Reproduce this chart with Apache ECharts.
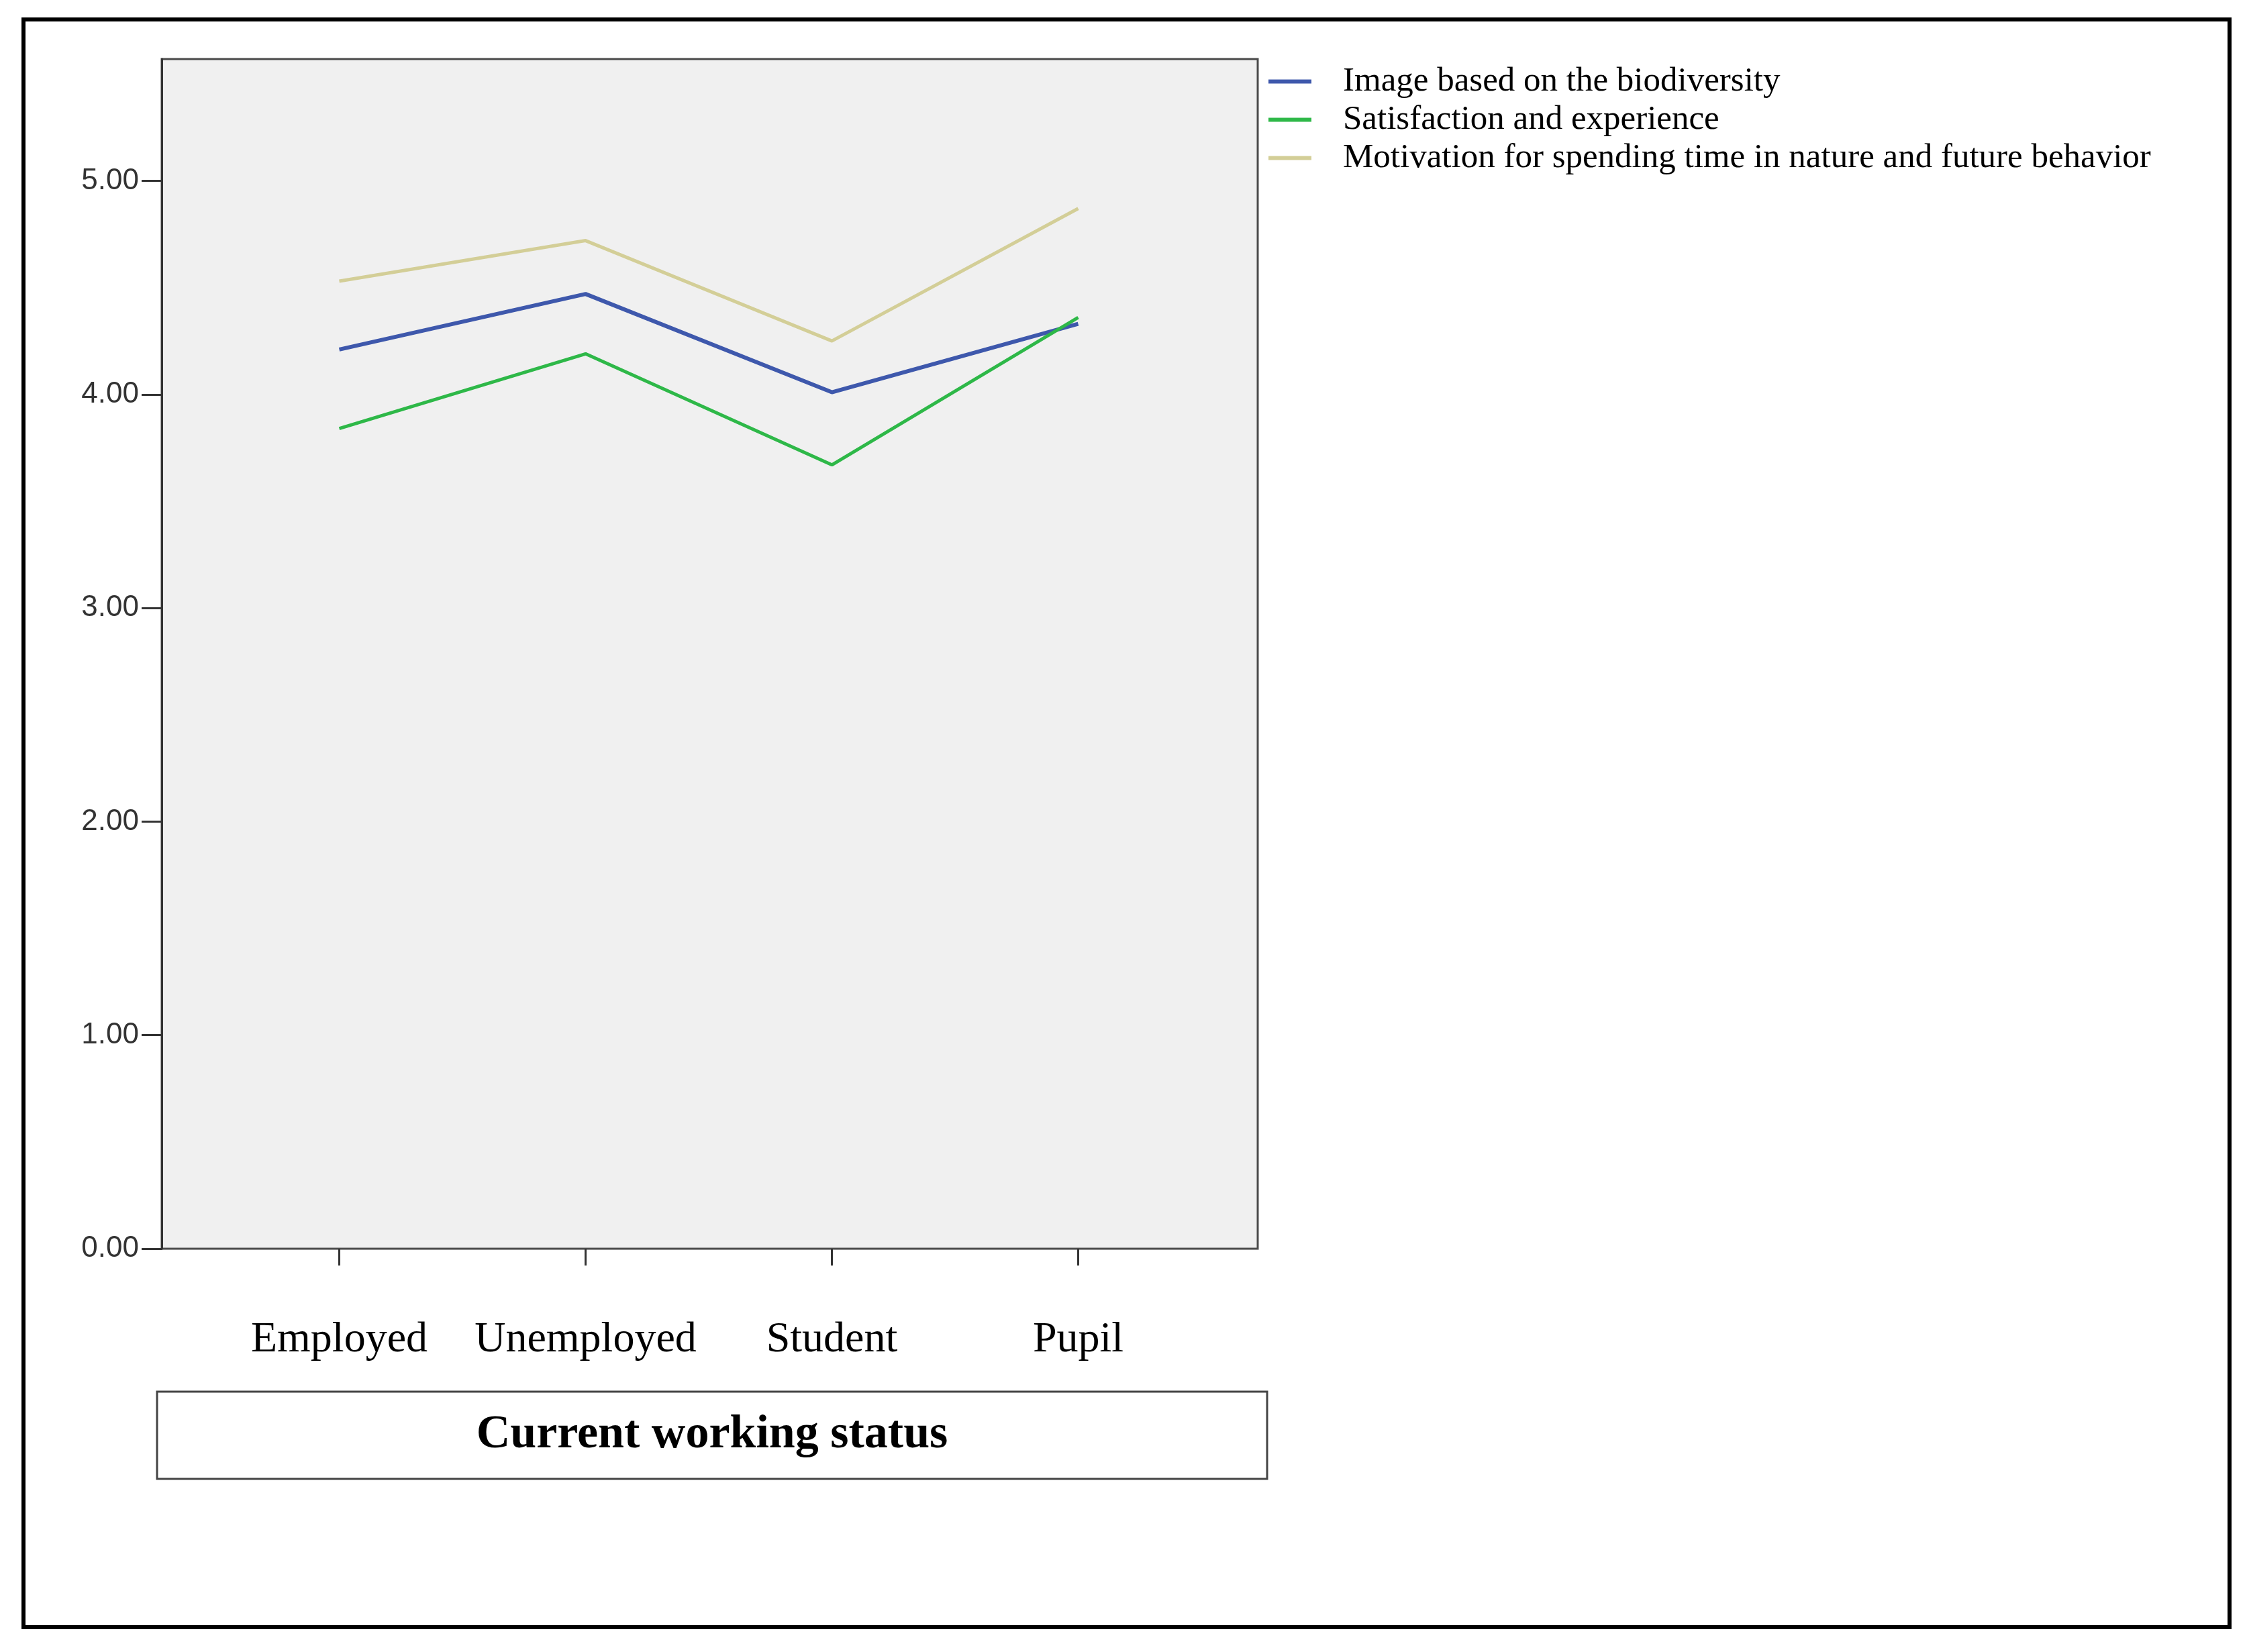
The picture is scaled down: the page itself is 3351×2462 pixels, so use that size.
<!DOCTYPE html>
<html>
<head>
<meta charset="utf-8">
<script src="https://cdn.jsdelivr.net/npm/echarts@6/dist/echarts.min.js"></script>
<style>
html,body{margin:0;padding:0;background:#fff;}
#chart{width:3351px;height:2462px;}
</style>
</head>
<body>
<div id="chart"></div>
<script>
const categories = ['Employed', 'Unemployed', 'Student', 'Pupil'];
const seriesNames = [
  'Image based on the biodiversity',
  'Satisfaction and experience',
  'Motivation for spending time in nature and future behavior'
];
const imageValues = [4.21, 4.47, 4.01, 4.33];
const satisfactionValues = [3.84, 4.19, 3.67, 4.36];
const motivationValues = [4.53, 4.72, 4.25, 4.87];
const yTicks = [0, 1, 2, 3, 4, 5];
const yMin = 0;
const yMax = 5.57;
const axisTitle = 'Current working status';

const colors = ['#3E58AC', '#2EB848', '#D3CE97'];

const chart = echarts.init(document.getElementById('chart'), null, {renderer: 'canvas'});

const option = {
  animation: false,
  backgroundColor: '#ffffff',
  color: colors,
  grid: [
    {left: 241, top: 88, width: 1633, height: 1773, show: true,
     backgroundColor: '#F0F0F0', borderColor: '#4a4a4a', borderWidth: 3, containLabel: false},
    {left: 322, top: 88, width: 1468, height: 1773, containLabel: false}
  ],
  xAxis: [
    {type: 'category', gridIndex: 0, data: categories, show: false},
    {type: 'category', gridIndex: 1, data: categories, boundaryGap: true,
     axisLine: {show: false},
     axisTick: {show: true, alignWithLabel: true, interval: 0, length: 25, inside: false,
                lineStyle: {color: '#333', width: 3}},
     axisLabel: {show: true, interval: 0, margin: 104, color: '#000',
                 fontFamily: 'Liberation Serif', fontSize: 64},
     splitLine: {show: false}}
  ],
  yAxis: [
    {type: 'value', gridIndex: 0, min: yMin, max: yMax,
     axisLine: {show: true, lineStyle: {color: '#333', width: 3}},
     axisTick: {show: true, length: 30, inside: false, customValues: yTicks,
                lineStyle: {color: '#333', width: 3}},
     axisLabel: {show: true, margin: 34, color: '#333', customValues: yTicks,
                 fontFamily: 'Liberation Sans', fontSize: 44,
                 formatter: function (v) { return Number.isInteger(v) ? v.toFixed(2) : ''; }},
     splitLine: {show: false}},
    {type: 'value', gridIndex: 1, min: yMin, max: yMax, show: false,
     splitLine: {show: false}}
  ],
  legend: {
    orient: 'vertical',
    left: 1885,
    top: 88,
    itemWidth: 64,
    itemHeight: 6,
    itemGap: 0,
    icon: 'rect',
    textStyle: {fontFamily: 'Liberation Serif', fontSize: 51, color: '#000',
                lineHeight: 57, padding: [0, 0, 0, 42]},
    data: seriesNames
  },
  series: [
    {name: seriesNames[0], type: 'line', xAxisIndex: 1, yAxisIndex: 1,
     data: imageValues, symbol: 'none', lineStyle: {width: 6, color: colors[0]}},
    {name: seriesNames[1], type: 'line', xAxisIndex: 1, yAxisIndex: 1,
     data: satisfactionValues, symbol: 'none', lineStyle: {width: 5, color: colors[1]}},
    {name: seriesNames[2], type: 'line', xAxisIndex: 1, yAxisIndex: 1,
     data: motivationValues, symbol: 'none', lineStyle: {width: 5, color: colors[2]}}
  ],
  graphic: [
    {type: 'rect', shape: {x: 35, y: 29, width: 3287, height: 2396},
     style: {fill: 'none', stroke: '#000', lineWidth: 6}, silent: true},
    {type: 'rect', shape: {x: 234, y: 2074, width: 1654, height: 130},
     style: {fill: '#fff', stroke: '#444', lineWidth: 3}, silent: true},
    {type: 'text', x: 1061, y: 2139,
     style: {text: axisTitle, fontFamily: 'Liberation Serif', fontWeight: 'bold',
             fontSize: 70, fill: '#000', align: 'center', verticalAlign: 'middle'},
     silent: true}
  ]
};

chart.setOption(option);
</script>
</body>
</html>
